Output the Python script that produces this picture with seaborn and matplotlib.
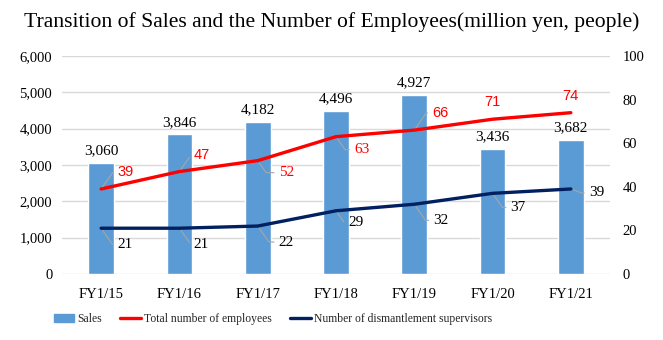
import numpy as np
import pandas as pd
import matplotlib
matplotlib.use("Agg")
import matplotlib.pyplot as plt
import seaborn as sns
from matplotlib.patches import Patch
from matplotlib.lines import Line2D

# ---- data ----
years = ["FY1/15", "FY1/16", "FY1/17", "FY1/18", "FY1/19", "FY1/20", "FY1/21"]
sales = [3060, 3846, 4182, 4496, 4927, 3436, 3682]
employees = [39, 47, 52, 63, 66, 71, 74]
supervisors = [21, 21, 22, 29, 32, 37, 39]
left_ticks = [0, 1000, 2000, 3000, 4000, 5000, 6000]
right_ticks = [0, 20, 40, 60, 80, 100]

# ---- layout (label offsets in pixels: dx, dy (down positive)) ----
emp_off = [(16, -17), (14, -17), (21, 12), (18, 13), (18, -17), None, None]
sup_off = [(16, 16), (14, 16), (21, 16), (12, 12), (19, 16), (18, 14), (18, 4)]
emp_sans = [True, True, False, False, True, True, True]

BLUE = "#5B9BD5"
RED = "#FF0000"
NAVY = "#002060"
GRID = "#D9D9D9"
SERIF = ["Liberation Serif", "DejaVu Serif"]
SANS = ["Liberation Sans", "DejaVu Sans"]

sns.set_style("white")
plt.rcParams["font.family"] = SERIF

W, H = 663, 340
fig = plt.figure(figsize=(W / 100, H / 100), dpi=100)
ax = fig.add_axes([62 / W, 1 - 274 / H, (610 - 62) / W, (274 - 56) / H])

df = pd.DataFrame({"year": years, "sales": sales,
                   "pos": np.arange(len(years)),
                   "emp": employees, "sup": supervisors})

sns.barplot(data=df, x="year", y="sales", color=BLUE, saturation=1,
            width=0.33, ax=ax, zorder=2)
ax.set_ylim(0, 6000)
ax.set_xlim(-0.5, len(years) - 0.5)
ax.set_yticks(left_ticks)
ax.set_yticklabels([f"{v:,}" for v in left_ticks])
ax.yaxis.grid(True, color=GRID, lw=1, zorder=0)
ax.set_axisbelow(True)
ax.set_xlabel("")
ax.set_ylabel("")
for s in ax.spines.values():
    s.set_visible(False)
ax.tick_params(axis="both", length=0, labelsize=10.5, colors="black")
ax.tick_params(axis="y", pad=7)
ax.tick_params(axis="x", pad=10)
ax.bar_label(ax.containers[0], labels=[f"{v:,}" for v in sales],
             padding=4, fontsize=11, color="black")

ax2 = ax.twinx()
sns.lineplot(data=df, x="pos", y="emp", color=RED, lw=2.4, ax=ax2, zorder=3)
sns.lineplot(data=df, x="pos", y="sup", color=NAVY, lw=2.4, ax=ax2, zorder=3)
ax2.set_ylim(0, 100)
ax2.set_xlim(-0.5, len(years) - 0.5)
ax2.set_yticks(right_ticks)
ax2.set_yticklabels([str(v) for v in right_ticks])
ax2.set_xlabel("")
ax2.set_ylabel("")
ax2.grid(False)
for s in ax2.spines.values():
    s.set_visible(False)
ax2.tick_params(axis="both", length=0, labelsize=10.5, colors="black")
ax2.tick_params(axis="y", pad=9)

PT = 0.72  # pixels -> points at 100 dpi


def label(vals, offs, color, sans_flags):
    for i, (v, off) in enumerate(zip(vals, offs)):
        fam = SANS if sans_flags[i] else SERIF
        fs = 10.5 if sans_flags[i] else 11
        if off is None:
            ax2.annotate(str(v), (i, v), xytext=(0, 17 * PT),
                         textcoords="offset points", ha="center", va="center",
                         fontsize=fs, color=color, family=fam)
            continue
        dx, dy = off
        angB = 55 if dy < 0 else -55
        if abs(dy) < 8:
            angB = -20
        ax2.annotate(str(v), (i, v), xytext=(dx * PT, -dy * PT),
                     textcoords="offset points", ha="left", va="center",
                     fontsize=fs, color=color, family=fam,
                     arrowprops=dict(arrowstyle="-", color="#A6A6A6", lw=0.8,
                                     shrinkA=1, shrinkB=2, relpos=(0, 0.5),
                                     connectionstyle=f"angle,angleA=0,angleB={angB},rad=0"))


label(employees, emp_off, RED, emp_sans)
label(supervisors, sup_off, "black", [False] * len(supervisors))

fig.text(0.5, 1 - 22 / H, "Transition of Sales and the Number of Employees(million yen, people)",
         ha="center", va="center", fontsize=15.6, color="black")

handles = [Patch(facecolor=BLUE, edgecolor=BLUE),
           Line2D([0], [0], color=RED, lw=2.4),
           Line2D([0], [0], color=NAVY, lw=2.4)]
fig.legend(handles, ["Sales", "Total number of employees",
                     "Number of dismantlement supervisors"],
           loc="center left", bbox_to_anchor=(48 / W, 1 - 319 / H), ncol=3,
           frameon=False, fontsize=8.4, handlelength=1.75, handleheight=0.6,
           handletextpad=0.25, columnspacing=1.6, borderpad=0)

fig.savefig("out.png", dpi=100)
